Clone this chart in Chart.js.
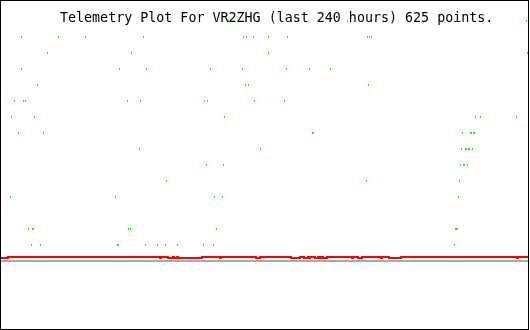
<!DOCTYPE html>
<html><head><meta charset="utf-8">
<script src="https://cdn.jsdelivr.net/npm/chart.js@4"></script>
<style>html,body{margin:0;padding:0;background:#fff}canvas{display:block}</style>
</head><body>
<canvas id="c" width="530" height="330"></canvas>
<script>
// ---- data ----
const titleText = "Telemetry Plot For VR2ZHG (last 240 hours) 625 points.";
const hoursMin = 0, hoursMax = 240;
const levelMin = -4.25, levelMax = 16.25;

const greenLevels = [15, 14, 13, 12, 11, 10, 9, 8, 7, 6, 5, 4, 2, 1];
const greenHours15 = [39.3, 47.6, 65.0, 69.3, 103.5, 157.7, 170.6, 239.3];
const greenHours14 = [9.3, 26.3, 38.6, 64.8, 110.6, 111.7, 115.1, 122.0, 130.6, 167.0, 168.0, 168.9];
const greenHours13 = [21.3, 59.6, 121.7, 239.9];
const greenHours12 = [9.2, 54.1, 66.4, 95.5, 110.1, 130.2, 140.6, 150.2];
const greenHours11 = [16.8, 111.3, 112.9, 167.5];
const greenHours10 = [6.3, 10.2, 11.2, 57.7, 63.7, 92.7, 94.0, 115.6, 129.2];
const greenHours9  = [4.9, 15.4, 101.9, 216.2, 218.5, 234.9];
const greenHours8  = [8.1, 19.5, 141.9, 142.3, 210.3, 213.8, 214.3, 215.2, 215.6];
const greenHours7  = [63.2, 118.3, 209.9, 211.7, 212.1, 213.0, 213.5, 214.9];
const greenHours6  = [93.7, 101.5, 209.4, 210.8, 211.2, 212.6];
const greenHours5  = [75.5, 166.6, 208.9];
const greenHours4  = [4.5, 52.3, 97.4, 101.0, 208.5];
const greenHours2  = [12.7, 14.5, 14.9, 58.2, 59.0, 98.3, 207.1, 207.6, 208.0];
const greenHours1  = [14.0, 18.1, 53.2, 53.6, 65.9, 71.4, 75.1, 80.5, 92.4, 96.9, 206.7];
const greenHoursByLevel = [greenHours15, greenHours14, greenHours13, greenHours12, greenHours11,
  greenHours10, greenHours9, greenHours8, greenHours7, greenHours6, greenHours5, greenHours4,
  greenHours2, greenHours1];

const redHigh = 0.25, redLow = 0.1875;
const redHours = [0, 3.2, 72.4, 72.9, 76.0, 78.3, 78.8, 80.2, 80.6, 91.5, 99.7, 100.2,
  116.1, 118.0, 132.1, 136.2, 138.0, 139.8, 140.3, 140.7, 143.0, 144.4, 145.3, 145.7,
  146.6, 148.5, 159.8, 160.3, 162.6, 164.4, 173.1, 173.5, 176.7, 182.2, 235.0, 235.4, 240];
const redValues = [redLow, redHigh, redLow, redHigh, redLow, redHigh, redLow, redHigh, redLow, redHigh, redLow, redHigh,
  redLow, redHigh, redLow, redHigh, redLow, redHigh, redLow, redHigh, redLow, redHigh, redLow, redHigh,
  redLow, redHigh, redLow, redHigh, redLow, redHigh, redLow, redHigh, redLow, redHigh, redLow, redHigh, redHigh];

const baseHours = [0, 240];
const baseValues = [0, 0];

// ---- build ----
const greenPoints = [];
greenHoursByLevel.forEach((arr, i) => arr.forEach(h => greenPoints.push({x: h, y: greenLevels[i]})));
const redPoints = redHours.map((h, i) => ({x: h, y: redValues[i]}));
const basePoints = baseHours.map((h, i) => ({x: h, y: baseValues[i]}));

const dot = document.createElement('canvas');
dot.width = 1; dot.height = 2;
const dctx = dot.getContext('2d');
dctx.fillStyle = '#00ff00';
dctx.fillRect(0, 0, 1, 2);

const framePlugin = {
  id: 'frame',
  beforeDatasetsDraw(chart) { chart.ctx.imageSmoothingEnabled = false; },
  afterDraw(chart) {
    const ctx = chart.ctx;
    ctx.save();
    ctx.fillStyle = '#000';
    ctx.font = '13.33px "DejaVu Sans Mono"';
    ctx.textAlign = 'left';
    ctx.textBaseline = 'alphabetic';
    ctx.fillText(titleText, 60, 22);
    ctx.strokeStyle = '#000';
    ctx.lineWidth = 1;
    ctx.strokeRect(0.5, 0.5, 528, 329);
    ctx.restore();
  }
};

new Chart(document.getElementById('c'), {
  type: 'scatter',
  data: {
    datasets: [
      { data: greenPoints, pointStyle: dot, pointRadius: 1, showLine: false },
      { data: redPoints, showLine: true, stepped: true, borderColor: '#ff0000', borderWidth: 2, pointRadius: 0, fill: false },
      { data: basePoints, showLine: true, borderColor: '#aaaaaa', borderWidth: 2, pointRadius: 0, fill: false }
    ]
  },
  options: {
    responsive: false,
    animation: false,
    devicePixelRatio: 1,
    layout: { autoPadding: false, padding: { left: 1, top: 1, right: 2, bottom: 1 } },
    plugins: { legend: { display: false }, tooltip: { enabled: false }, title: { display: false } },
    scales: {
      x: { type: 'linear', min: hoursMin, max: hoursMax, display: false },
      y: { type: 'linear', min: levelMin, max: levelMax, display: false }
    }
  },
  plugins: [framePlugin]
});
</script>
</body></html>
